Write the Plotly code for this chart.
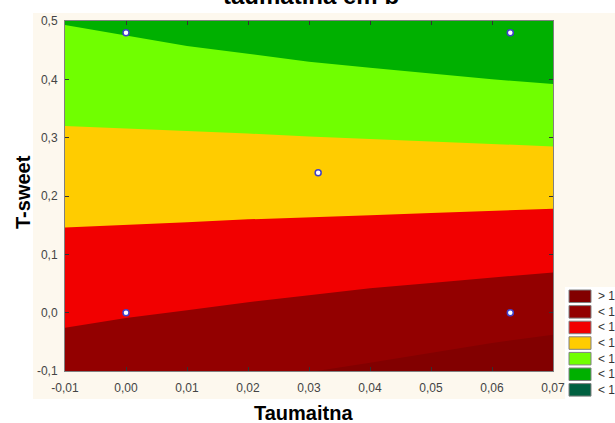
import plotly.graph_objects as go

# ---- data ----
x_grid = [-0.01, 0.00, 0.01, 0.02, 0.03, 0.04, 0.05, 0.06, 0.07]
# contour boundaries (T-sweet value at each x_grid position)
bound_1 = [-0.190, -0.165, -0.140, -0.120, -0.102, -0.086, -0.069, -0.052, -0.038]
bound_2 = [-0.026, -0.009, 0.004, 0.018, 0.030, 0.042, 0.051, 0.060, 0.069]
bound_3 = [0.146, 0.150, 0.155, 0.160, 0.163, 0.167, 0.171, 0.174, 0.178]
bound_4 = [0.320, 0.316, 0.311, 0.307, 0.302, 0.298, 0.294, 0.290, 0.285]
bound_5 = [0.493, 0.475, 0.457, 0.444, 0.430, 0.420, 0.410, 0.400, 0.392]

design_x = [0.0, 0.063, 0.0315, 0.0, 0.063]
design_y = [0.48, 0.48, 0.24, 0.0, 0.0]

band_colors = ["#820000", "#930000", "#f20000", "#ffcc00", "#70ff00", "#00b000"]
legend_labels = ["> 1", "< 1", "< 1", "< 1", "< 1", "< 1", "< 1"]
legend_colors = ["#820000", "#930000", "#f20000", "#ffcc00", "#70ff00", "#00b000", "#006040"]

x_tick_vals = [-0.01, 0.00, 0.01, 0.02, 0.03, 0.04, 0.05, 0.06, 0.07]
x_tick_text = ["-0,01", "0,00", "0,01", "0,02", "0,03", "0,04", "0,05", "0,06", "0,07"]
y_tick_vals = [-0.1, 0.0, 0.1, 0.2, 0.3, 0.4, 0.5]
y_tick_text = ["-0,1", "0,0", "0,1", "0,2", "0,3", "0,4", "0,5"]

title_text = "taumatina em b"
x_title = "Taumaitna"
y_title = "T-sweet"

# ---- figure geometry (pixels) ----
W, H = 615, 423
L, R, T, B = 65, 553, 21, 371


def px(xp):
    return (xp - L) / (R - L)


def py(yp):
    return (B - yp) / (B - T)


fig = go.Figure()

TOP, BOTTOM = 0.6, -0.25
boundaries = [None, bound_1, bound_2, bound_3, bound_4, bound_5]
for color, bnd in zip(band_colors, boundaries):
    lower = bnd if bnd is not None else [BOTTOM] * len(x_grid)
    xs = x_grid + x_grid[::-1]
    ys = lower + [TOP] * len(x_grid)
    fig.add_trace(go.Scatter(
        x=xs, y=ys, mode="lines", fill="toself", fillcolor=color,
        line=dict(width=0, color=color), hoverinfo="skip", showlegend=False))

fig.add_trace(go.Scatter(
    x=design_x, y=design_y, mode="markers", showlegend=False,
    marker=dict(size=6, color="white", line=dict(width=1.5, color="#4040c8"))))

shapes = [
    # cream graph panel
    dict(type="rect", xref="paper", yref="paper", layer="below",
         x0=px(33), x1=px(615), y0=py(399), y1=py(13),
         fillcolor="#fdf8ee", line=dict(width=0)),
    dict(type="rect", xref="paper", yref="paper", layer="below",
         x0=px(565), x1=px(615), y0=py(423), y1=py(287),
         fillcolor="white", line=dict(width=0)),
]
annotations = []

box_top0, box_step, box_h = 290, 15.6, 12.5
for i, (lab, col) in enumerate(zip(legend_labels, legend_colors)):
    t = box_top0 + i * box_step
    shapes.append(dict(type="rect", xref="paper", yref="paper",
                       x0=px(569), x1=px(591), y0=py(t + box_h), y1=py(t),
                       fillcolor=col, line=dict(width=1, color="#808080")))
    annotations.append(dict(xref="paper", yref="paper", x=px(596), y=py(t + box_h / 2),
                            xanchor="left", yanchor="middle", showarrow=False,
                            text=lab, font=dict(size=12, color="#333333",
                                                family="Liberation Sans")))

annotations.append(dict(xref="paper", yref="paper", x=px(311), y=py(-5),
                        xanchor="center", yanchor="middle", showarrow=False,
                        text="<b>" + title_text + "</b>",
                        font=dict(size=24, color="black", family="Liberation Sans")))
annotations.append(dict(xref="paper", yref="paper", x=px(303), y=py(413),
                        xanchor="center", yanchor="middle", showarrow=False,
                        text="<b>" + x_title + "</b>",
                        font=dict(size=20, color="black", family="Liberation Sans")))
annotations.append(dict(xref="paper", yref="paper", x=px(23), y=py(192),
                        xanchor="center", yanchor="middle", showarrow=False,
                        textangle=-90, text="<b>" + y_title + "</b>",
                        font=dict(size=20, color="black", family="Liberation Sans")))

axis_common = dict(showgrid=False, zeroline=False, showline=True, linecolor="#808080",
                   linewidth=1, mirror="ticks", ticks="inside", ticklen=4,
                   tickcolor="#333333", tickwidth=1,
                   tickfont=dict(size=12, color="#444444", family="Liberation Sans"))

fig.update_layout(
    width=W, height=H, autosize=False,
    margin=dict(l=L, r=W - R, t=T, b=H - B, pad=0),
    paper_bgcolor="white", plot_bgcolor="rgba(0,0,0,0)",
    shapes=shapes, annotations=annotations,
    xaxis=dict(range=[-0.01, 0.07], tickvals=x_tick_vals, ticktext=x_tick_text,
               ticklabelstandoff=6, **axis_common),
    yaxis=dict(range=[-0.1, 0.5], tickvals=y_tick_vals, ticktext=y_tick_text,
               ticklabelstandoff=4, **axis_common),
)

fig.write_html("out.html")
